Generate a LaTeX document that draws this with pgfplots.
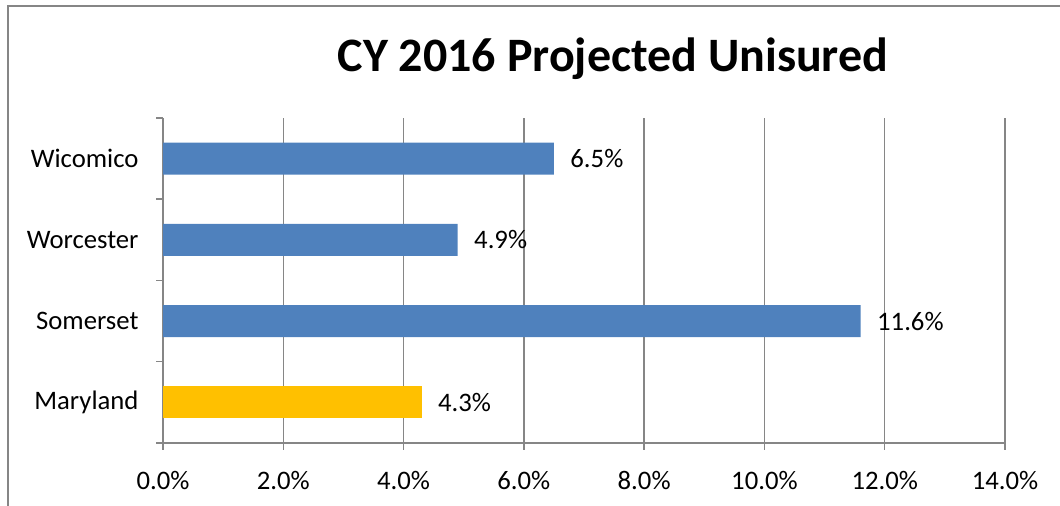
\documentclass[border=0pt]{standalone}
\usepackage{fontspec}
\setmainfont{Carlito}
\usepackage{pgfplots}
\pgfplotsset{compat=1.18}
\definecolor{barblue}{HTML}{4F81BD}
\definecolor{bargold}{HTML}{FFC000}
\definecolor{gridgray}{HTML}{868686}
\begin{document}
\begin{tikzpicture}
\path[use as bounding box] (0bp,0bp) rectangle (1060bp,506bp);
\draw[gridgray, line width=1.5bp] (8bp,0bp) -- (8bp,500bp) -- (1060bp,500bp);
\node[anchor=base, font=\fontsize{48bp}{56bp}\selectfont\bfseries] at (613bp,434bp) {CY 2016 Projected Unisured};
\begin{axis}[
  at={(163bp,63bp)}, anchor=south west,
  scale only axis, width=842bp, height=325bp,
  xbar, bar width=32bp,
  xmin=0, xmax=14, ymin=-0.5, ymax=3.5,
  axis x line=bottom, axis y line=left,
  axis line style={-, gridgray, line width=1.5bp},
  xtick={0,2,4,6,8,10,12,14},
  xticklabel={\pgfmathprintnumber[fixed,fixed zerofill,precision=1]{\tick}\%},
  /pgf/number format/assume math mode=true,
  xmajorgrids, grid style={gridgray, line width=1.5bp},
  tick align=outside, major tick length=7bp,
  tick style={gridgray, line width=1.5bp},
  ytick={-0.5,0.5,1.5,2.5,3.5}, yticklabels={},
  extra y ticks={0,1,2,3},
  extra y tick labels={Maryland,Somerset,Worcester,Wicomico},
  extra y tick style={major tick length=0pt, tick style={draw=none}, yticklabel style={xshift=-21bp}},
  ticklabel style={font=\fontsize{26.7bp}{32bp}\selectfont, text=black},
  xticklabel style={yshift=-18bp},
  nodes near coords={\pgfmathprintnumber[fixed,fixed zerofill,precision=1]{\pgfplotspointmeta}\%},
  nodes near coords align={horizontal},
  every node near coord/.append style={anchor=west, xshift=13bp, font=\fontsize{26.7bp}{32bp}\selectfont, text=black},
  clip=false,
]
\addplot[bar shift=0pt, fill=barblue, draw=none] coordinates {(6.5,3) (4.9,2) (11.6,1)};
\addplot[bar shift=0pt, fill=bargold, draw=none] coordinates {(4.3,0)};
\end{axis}
\end{tikzpicture}
\end{document}
